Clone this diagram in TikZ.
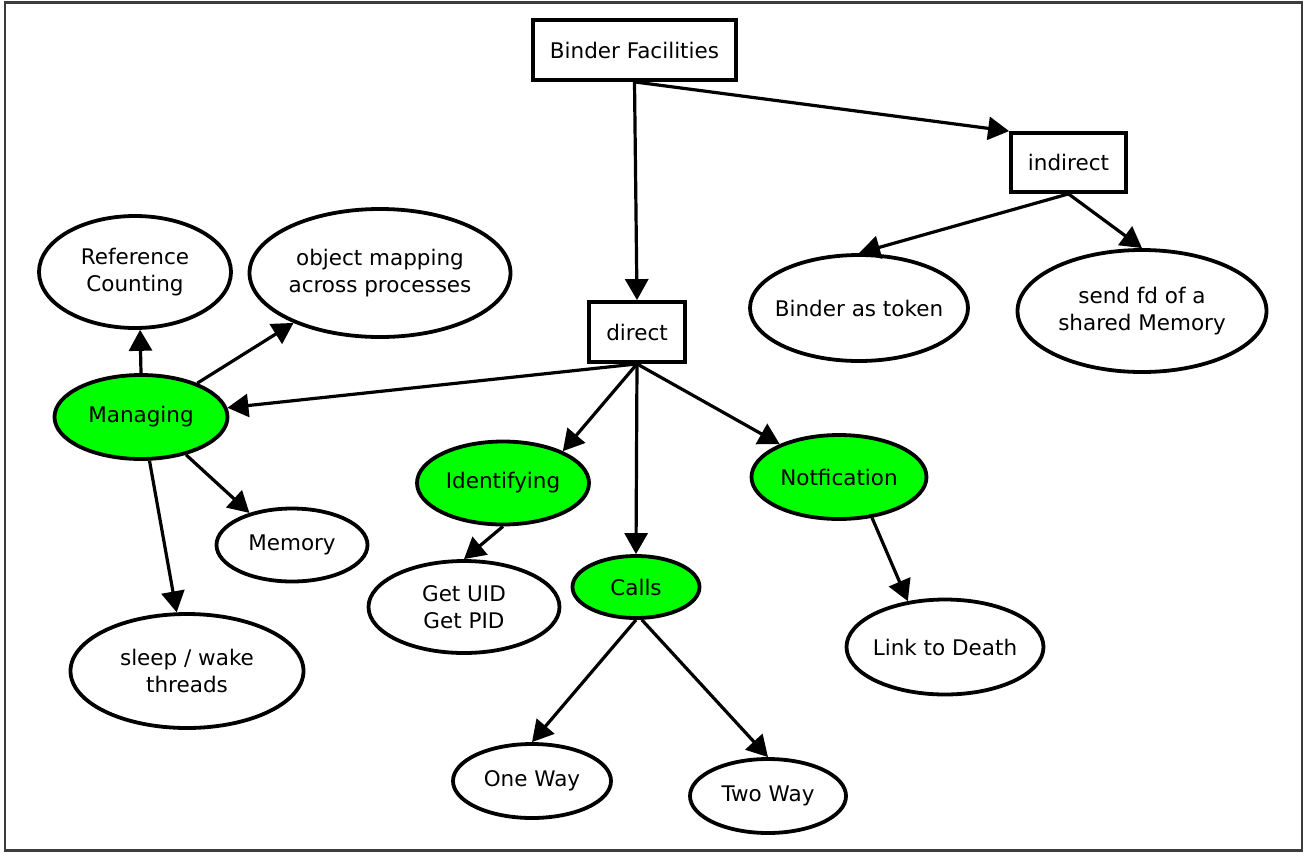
\documentclass[tikz,border=0pt]{standalone}
\usepackage{fontspec}
\setmainfont{DejaVu Sans}
\usetikzlibrary{shapes.geometric,arrows.meta}
\definecolor{nodegreen}{HTML}{00FF00}
\definecolor{framegray}{HTML}{3C3C3C}
\begin{document}
\begin{tikzpicture}[x=1pt,y=-1pt,
  every node/.style={font=\fontsize{21.5}{27}\selectfont, align=center,
    line width=3.8pt, draw=black, text=black},
  box/.style={rectangle, inner sep=0pt},
  oval/.style={ellipse, inner xsep=-40pt, inner ysep=-15pt},
  active/.style={oval, fill=nodegreen},
  conn/.style={line width=3.2pt, -{Triangle[length=21pt,width=23pt]}}
]
\useasboundingbox (0,0) rectangle (1304,852);
\draw[framegray, line width=2.5pt] (5,2.5) rectangle (1302,850.5);

% boxes
\node[box, minimum width=203pt, minimum height=60pt] (bf) at (634.5,50) {Binder Facilities};
\node[box, minimum width=115pt, minimum height=59pt] (indirect) at (1068.5,162.5) {indirect};
\node[box, minimum width=96pt, minimum height=60pt] (direct) at (637,332) {direct};

% indirect branch
\node[oval, minimum width=218pt, minimum height=106pt] (token) at (859,308) {Binder as token};
\node[oval, minimum width=249pt, minimum height=122pt] (sendfd) at (1142,311) {send fd of a\\shared Memory};

% direct branch
\node[active, minimum width=173pt, minimum height=84pt] (managing) at (141,417) {Managing};
\node[active, minimum width=172pt, minimum height=83pt] (identifying) at (503,483) {Identifying};
\node[active, minimum width=127pt, minimum height=62pt] (calls) at (636,587) {Calls};
\node[active, minimum width=175pt, minimum height=84pt] (notif) at (839,477) {Notfication};

\node[oval, minimum width=192pt, minimum height=112pt] (refcount) at (135,272) {Reference\\Counting};
\node[oval, minimum width=261pt, minimum height=128pt] (objmap) at (380,273) {object mapping\\across processes};
\node[oval, minimum width=151pt, minimum height=73pt] (memory) at (292,545) {Memory};
\node[oval, minimum width=233pt, minimum height=114pt] (sleep) at (187,671) {sleep / wake\\threads};
\node[oval, minimum width=191pt, minimum height=92pt] (getuid) at (464,607) {Get UID\\Get PID};
\node[oval, minimum width=158pt, minimum height=74pt] (oneway) at (532,781) {One Way};
\node[oval, minimum width=156pt, minimum height=74pt] (twoway) at (768,796) {Two Way};
\node[oval, minimum width=197pt, minimum height=95pt] (death) at (945,647) {Link to Death};

% connectors
\draw[conn] (bf.south) -- (direct.north);
\draw[conn] (bf.south) -- (indirect.north west);
\draw[conn] (indirect.south) -- (token.north);
\draw[conn] (indirect.south) -- (sendfd.north);
\draw[conn] (direct.south) -- (managing);
\draw[conn] (direct.south) -- (identifying.28);
\draw[conn] (direct.south) -- (calls.north);
\draw[conn] (direct.south) -- (notif.151);
\draw[conn] (managing.north) -- (refcount.-85);
\draw[conn] (managing.31) -- (objmap.210);
\draw[conn] (managing.-40) -- (memory.143);
\draw[conn] (managing.-79) -- (sleep.100);
\draw[conn] (identifying.south) -- (getuid.north);
\draw[conn] (calls.south) -- (oneway.north);
\draw[conn] (calls.-80) -- (twoway.north);
\draw[conn] (notif.-51) -- (death.129);
\end{tikzpicture}
\end{document}
